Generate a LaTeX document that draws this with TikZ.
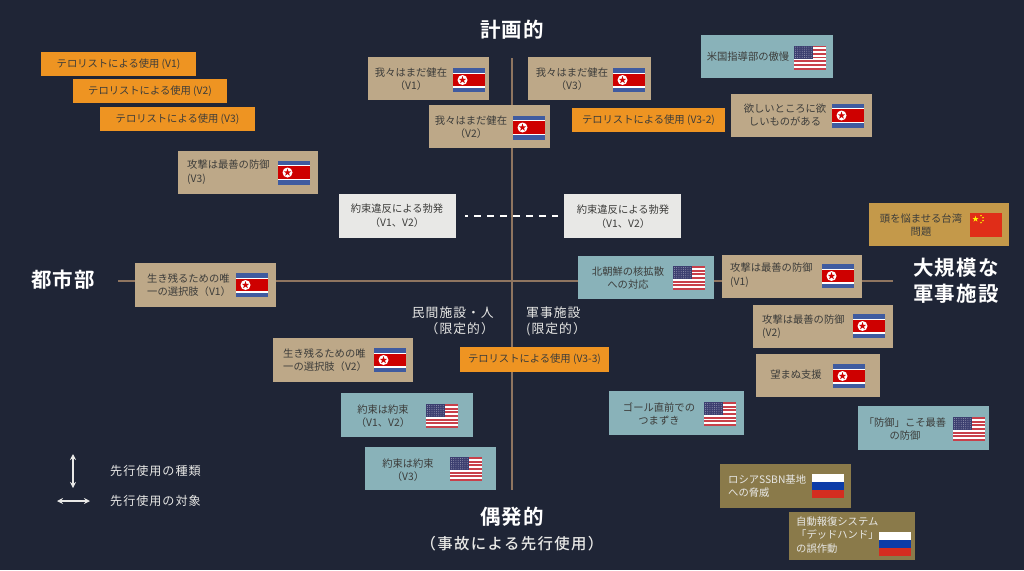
\documentclass[tikz,border=0pt]{standalone}
\usepackage{fontspec}
\usetikzlibrary{arrows.meta}
\setmainfont{Noto Sans CJK JP}
\newfontfamily\spacedfont[LetterSpace=8]{Noto Sans CJK JP}
\newfontfamily\subtitlefont[LetterSpace=9]{Noto Sans CJK JP Medium}
\newfontfamily\titlefont[LetterSpace=5]{Noto Sans CJK JP Bold}
\definecolor{bgnavy}{HTML}{1F2536}
\definecolor{boxtan}{HTML}{BDA888}
\definecolor{boxorange}{HTML}{EE9422}
\definecolor{boxteal}{HTML}{89B2B9}
\definecolor{boxgold}{HTML}{C4994A}
\definecolor{boxolive}{HTML}{8A7A4A}
\definecolor{boxlight}{HTML}{E8E8E6}
\definecolor{axisbrown}{HTML}{8F7560}
\definecolor{inkgrey}{HTML}{3C3C3A}
\definecolor{flagblue}{HTML}{3F5BA0}
\definecolor{flagred}{HTML}{CE0000}
\definecolor{usblue}{HTML}{3C3F70}
\definecolor{usred}{HTML}{C8404A}
\definecolor{rublue}{HTML}{0C3CA8}
\definecolor{rured}{HTML}{D42D20}
\definecolor{cnred}{HTML}{E02D18}
\newcommand{\flagstar}[4]{\fill[#4,shift={(#1,#2)}] (-90:#3)--(54:#3)--(198:#3)--(-18:#3)--(126:#3)--cycle;}
\tikzset{
  x=1pt,y=-1pt,
  basebox/.style={rectangle,inner sep=0pt},
  boxsize/.style 2 args={minimum width=#1pt,minimum height=#2pt},
  tanbox/.style={basebox,fill=boxtan},
  orangebox/.style={basebox,fill=boxorange},
  tealbox/.style={basebox,fill=boxteal},
  goldbox/.style={basebox,fill=boxgold},
  olivebox/.style={basebox,fill=boxolive},
  lightbox/.style={basebox,fill=boxlight},
  boxtext/.style={inner sep=0pt,align=center,text=inkgrey,font=\fontsize{10.3}{13.5}\selectfont},
  lefttext/.style={boxtext,align=left,anchor=west},
  paletext/.style={lefttext,text=boxlight},
  axislabel/.style={inner sep=0pt,text=white,align=center,font=\titlefont\fontsize{20.5}{26}\selectfont},
  sidelabel/.style={inner sep=0pt,text=boxlight,font=\spacedfont\fontsize{12.8}{16}\selectfont},
  keylabel/.style={inner sep=0pt,anchor=west,text=boxlight,font=\spacedfont\fontsize{12.1}{16}\selectfont},
  keyarrow/.style={{Stealth[length=6pt,width=6pt]}-{Stealth[length=6pt,width=6pt]},boxlight,line width=1.2pt},
  nkflag/.pic={
    \fill[flagblue] (-16,-12) rectangle (16,12);
    \fill[white] (-16,-7.5) rectangle (16,7.5);
    \fill[flagred] (-16,-6.3) rectangle (16,6.3);
    \fill[white] (-6.5,0) circle (5);
    \flagstar{-6.5}{0}{4}{flagred}
  },
  usflag/.pic={
    \fill[white] (-16,-12) rectangle (16,12);
    \foreach \s in {0,2,...,12}
      \fill[usred] (-16,-12+\s*24/13) rectangle (16,-12+\s*24/13+24/13);
    \fill[usblue] (-16,-12) rectangle (2.5,1);
    \foreach \i in {0,...,7}
      \foreach \j in {0,...,5}
        \fill[white!70!usblue] (-14.6+\i*2.25,-10.4+\j*2.05) circle (0.4);
  },
  ruflag/.pic={
    \fill[white] (-16,-12) rectangle (16,-4);
    \fill[rublue] (-16,-4) rectangle (16,4);
    \fill[rured] (-16,4) rectangle (16,12);
  },
  cnflag/.pic={
    \fill[cnred] (-16,-12) rectangle (16,12);
    \flagstar{-10.5}{-6}{3.2}{yellow}
    \flagstar{-5}{-9.5}{1}{yellow}
    \flagstar{-3}{-7.5}{1}{yellow}
    \flagstar{-3}{-4.5}{1}{yellow}
    \flagstar{-5}{-2.5}{1}{yellow}
  }
}
\begin{document}
\begin{tikzpicture}
  \useasboundingbox[fill=bgnavy] (0,0) rectangle (1024,570);
  % axes
  \coordinate (axisnorth) at (512,58);
  \coordinate (axissouth) at (512,490);
  \coordinate (axiswest) at (118,281);
  \coordinate (axiseast) at (893,281);
  \draw[axisbrown,line width=1.4pt] (axisnorth)--(axissouth);
  \draw[axisbrown,line width=1.4pt] (axiswest)--(axiseast);
  % axis titles
  \node[axislabel] (planned) at (512,30) {計画的};
  \node[axislabel] (accident) at (512,517) {偶発的};
  \node[inner sep=0pt,text=boxlight,font=\subtitlefont\fontsize{15.4}{20}\selectfont] (accidentsub) at (512,544) {（事故による先行使用）};
  \node[axislabel] (urban) at (63,280) {都市部};
  \node[axislabel] (military) at (956,281) {大規模な\\軍事施設};
  \node[sidelabel,align=right,anchor=east] (civil) at (494,321) {民間施設・人\\（限定的）};
  \node[sidelabel,align=left,anchor=west] (army) at (526,321) {軍事施設\\(限定的）};
  % terrorist boxes
  \node[orangebox,boxsize={155}{24}] (terrorone) at (118.5,64) {};
  \node[boxtext] (terroronetext) at (118.5,64) {テロリストによる使用 (V1)};
  \node[orangebox,boxsize={154}{24}] (terrortwo) at (150,91) {};
  \node[boxtext] (terrortwotext) at (150,91) {テロリストによる使用 (V2)};
  \node[orangebox,boxsize={155}{24}] (terrorthree) at (177.5,119) {};
  \node[boxtext] (terrorthreetext) at (177.5,119) {テロリストによる使用 (V3)};
  \node[orangebox,boxsize={153}{24}] (terrorfour) at (648.5,120) {};
  \node[boxtext] (terrorfourtext) at (648.5,120) {テロリストによる使用 (V3-2)};
  \node[orangebox,boxsize={149}{25}] (terrorfive) at (534.5,359.5) {};
  \node[boxtext] (terrorfivetext) at (534.5,359.5) {テロリストによる使用 (V3-3)};
  % dashed link
  \node[lightbox,boxsize={117}{44}] (breakleft) at (397.5,216) {};
  \node[boxtext] (breaklefttext) at (397,215.5) {約束違反による勃発\\（V1、V2）};
  \node[lightbox,boxsize={117}{44}] (breakright) at (622.5,216) {};
  \node[boxtext] (breakrighttext) at (623,216.5) {約束違反による勃発\\（V1、V2）};
  \draw[white,line width=2pt,dash pattern=on 7pt off 6pt,dash phase=4pt,shorten <=9pt,shorten >=6pt] (breakleft)--(breakright);
  % north korea
  \node[tanbox,boxsize={140}{43}] (attackthree) at (248,172.5) {};
  \node[lefttext] (attackthreetext) at (187,172) {攻撃は最善の防御\\(V3)};
  \pic at (294,172.5) {nkflag};
  \node[tanbox,boxsize={121}{43}] (aliveone) at (428.5,78.5) {};
  \node[boxtext] (aliveonetext) at (411,79) {我々はまだ健在\\（V1）};
  \pic at (469,80) {nkflag};
  \node[tanbox,boxsize={121}{43}] (alivetwo) at (489.5,126.5) {};
  \node[boxtext] (alivetwotext) at (471,127) {我々はまだ健在\\（V2）};
  \pic at (529,127.5) {nkflag};
  \node[tanbox,boxsize={123}{43}] (alivethree) at (589.5,78.5) {};
  \node[boxtext] (alivethreetext) at (572,79) {我々はまだ健在\\（V3）};
  \pic at (629,80) {nkflag};
  \node[tanbox,boxsize={141}{43}] (wanted) at (801.5,115.5) {};
  \node[boxtext] (wantedtext) at (785,115) {欲しいところに欲\\しいものがある};
  \pic at (848,115.5) {nkflag};
  \node[tanbox,boxsize={141}{44}] (surviveone) at (205.5,285) {};
  \node[lefttext] (surviveonetext) at (147,285) {生き残るための唯\\一の選択肢（V1）};
  \pic at (252,285) {nkflag};
  \node[tanbox,boxsize={140}{44}] (survivetwo) at (343,360) {};
  \node[lefttext] (survivetwotext) at (283,360) {生き残るための唯\\一の選択肢（V2）};
  \pic at (390,360) {nkflag};
  \node[tanbox,boxsize={140}{43}] (attackone) at (792,276.5) {};
  \node[lefttext] (attackonetext) at (730,275) {攻撃は最善の防御\\(V1)};
  \pic at (838,276) {nkflag};
  \node[tanbox,boxsize={140}{43}] (attacktwo) at (823,326.5) {};
  \node[lefttext] (attacktwotext) at (762,326.5) {攻撃は最善の防御\\(V2)};
  \pic at (869,326) {nkflag};
  \node[tanbox,boxsize={124}{43}] (unwanted) at (818,375.5) {};
  \node[boxtext] (unwantedtext) at (796,375) {望まぬ支援};
  \pic at (849,376) {nkflag};
  % united states
  \node[tealbox,boxsize={132}{43}] (arrogance) at (767,56.5) {};
  \node[boxtext] (arrogancetext) at (748,57) {米国指導部の傲慢};
  \pic at (810,57.5) {usflag};
  \node[tealbox,boxsize={136}{43}] (spread) at (646,277.5) {};
  \node[boxtext] (spreadtext) at (628,278) {北朝鮮の核拡散\\への対応};
  \pic at (689,278) {usflag};
  \node[tealbox,boxsize={135}{44}] (stumble) at (676.5,413) {};
  \node[boxtext] (stumbletext) at (659,414) {ゴール直前での\\つまずき};
  \pic at (720,414) {usflag};
  \node[tealbox,boxsize={131}{44}] (defence) at (923.5,428) {};
  \node[boxtext] (defencetext) at (905,429) {「防御」こそ最善\\の防御};
  \pic at (969,429) {usflag};
  \node[tealbox,boxsize={132}{44}] (promiseone) at (407,415) {};
  \node[boxtext] (promiseonetext) at (383,416) {約束は約束\\（V1、V2）};
  \pic at (442,416) {usflag};
  \node[tealbox,boxsize={131}{43}] (promisetwo) at (430.5,468.5) {};
  \node[boxtext] (promisetwotext) at (408,470) {約束は約束\\（V3）};
  \pic at (466,469) {usflag};
  % china
  \node[goldbox,boxsize={140}{43}] (taiwan) at (939,224.5) {};
  \node[boxtext] (taiwantext) at (921,225) {頭を悩ませる台湾\\問題};
  \pic at (986,225) {cnflag};
  % russia
  \node[olivebox,boxsize={131}{44}] (ssbn) at (785.5,486) {};
  \node[paletext] (ssbntext) at (728,486) {ロシアSSBN基地\\への脅威};
  \pic at (828,486) {ruflag};
  \node[olivebox,boxsize={126}{48}] (deadhand) at (852,536) {};
  \node[paletext] (deadhandtext) at (796,535) {自動報復システム\\「デッドハンド」\\の誤作動};
  \pic at (895,544) {ruflag};
  % key
  \coordinate (keynorth) at (73,454);
  \coordinate (keysouth) at (73,488);
  \coordinate (keywest) at (57,501);
  \coordinate (keyeast) at (90,501);
  \draw[keyarrow] (keynorth)--(keysouth);
  \draw[keyarrow] (keywest)--(keyeast);
  \node[keylabel] (keykind) at (110,471) {先行使用の種類};
  \node[keylabel] (keytarget) at (110,501) {先行使用の対象};
\end{tikzpicture}
\end{document}
